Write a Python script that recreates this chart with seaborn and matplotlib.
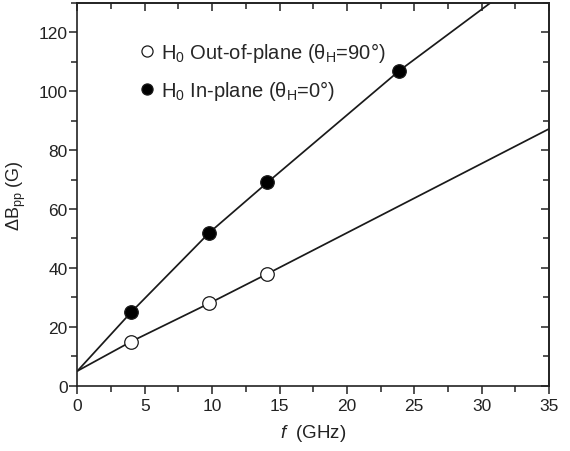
import numpy as np
import matplotlib
matplotlib.use("Agg")
import matplotlib.pyplot as plt
import seaborn as sns
from matplotlib.ticker import MultipleLocator
from matplotlib.lines import Line2D

# measured points
f_out = [4.0, 9.8, 14.1]
dB_out = [15.0, 28.0, 38.0]
f_in = [4.0, 9.8, 14.1, 23.9]
dB_in = [25.0, 52.0, 69.0, 107.0]

# fitted curves
fit_out_x = [0.0, 4.0, 9.8, 14.1, 35.0]
fit_out_y = [5.0, 15.0, 28.0, 38.0, 87.2]
fit_in_x = [0.0, 4.0, 9.8, 14.1, 23.9, 30.8]
fit_in_y = [5.0, 25.0, 52.0, 69.0, 107.0, 130.5]

sns.set_theme(style="ticks")
plt.rcParams["font.family"] = ["Liberation Sans", "DejaVu Sans"]
plt.rcParams["mathtext.fontset"] = "custom"
plt.rcParams["mathtext.rm"] = "Liberation Sans"
plt.rcParams["mathtext.it"] = "Liberation Sans:italic"

ink = "#1a1a1a"
fig = plt.figure(figsize=(5.7, 4.52), dpi=100)
ax = fig.add_axes([0.1358, 0.1445, 0.8274, 0.847])

sns.lineplot(x=fit_in_x, y=fit_in_y, ax=ax, color=ink, lw=1.25, sort=False)
sns.lineplot(x=fit_out_x, y=fit_out_y, ax=ax, color=ink, lw=1.25, sort=False)
sns.scatterplot(x=f_out, y=dB_out, ax=ax, s=95, color="white",
                edgecolor=ink, linewidth=0.9, zorder=3, clip_on=False)
sns.scatterplot(x=f_in, y=dB_in, ax=ax, s=95, color="black",
                edgecolor=ink, linewidth=0.9, zorder=3, clip_on=False)

ax.set_xlim(0, 35)
ax.set_ylim(0, 130)
ax.xaxis.set_major_locator(MultipleLocator(5))
ax.xaxis.set_minor_locator(MultipleLocator(2.5))
ax.yaxis.set_major_locator(MultipleLocator(20))
ax.yaxis.set_minor_locator(MultipleLocator(10))
ax.tick_params(which="both", direction="out", top=False, right=False,
               labelsize=12.5, colors="#222222", width=1.1)
ax.tick_params(which="major", length=6)
ax.tick_params(which="minor", length=4)
ax.tick_params(axis="y", pad=1)
ax.tick_params(axis="x", pad=3)
for sp in ax.spines.values():
    sp.set_visible(True)
    sp.set_linewidth(1.2)
    sp.set_color("#222222")

# inward ticks on top and right
ax2 = ax.secondary_xaxis("top")
ax2.xaxis.set_major_locator(MultipleLocator(5))
ax2.xaxis.set_minor_locator(MultipleLocator(2.5))
ax2.tick_params(which="both", direction="in", labeltop=False, width=1.1,
                colors="#222222")
ax2.tick_params(which="major", length=6)
ax2.tick_params(which="minor", length=4)
ax3 = ax.secondary_yaxis("right")
ax3.yaxis.set_major_locator(MultipleLocator(20))
ax3.yaxis.set_minor_locator(MultipleLocator(10))
ax3.tick_params(which="both", direction="in", labelright=False, width=1.1,
                colors="#222222")
ax3.tick_params(which="major", length=6)
ax3.tick_params(which="minor", length=4)

ax.set_xlabel("$\\mathit{f}$  (GHz)", fontsize=13.5, color="#222222", labelpad=6)
ax.set_ylabel("ΔB$_{\\rm pp}$ (G)", fontsize=13, color="#222222", labelpad=8)

handles = [
    Line2D([], [], ls="none", marker="o", ms=8, mfc="white", mec=ink, mew=0.9),
    Line2D([], [], ls="none", marker="o", ms=8, mfc="black", mec=ink, mew=0.9),
]
labels = ["H$_0$ Out-of-plane (θ$_{\\rm H}$=90°)",
          "H$_0$ In-plane (θ$_{\\rm H}$=0°)"]
ax.legend(handles, labels, loc="upper left", bbox_to_anchor=(0.084, 0.95),
          frameon=False, fontsize=14.5, handletextpad=0.1, labelspacing=0.68,
          handlelength=1.2)

fig.savefig("out.png", dpi=100)
